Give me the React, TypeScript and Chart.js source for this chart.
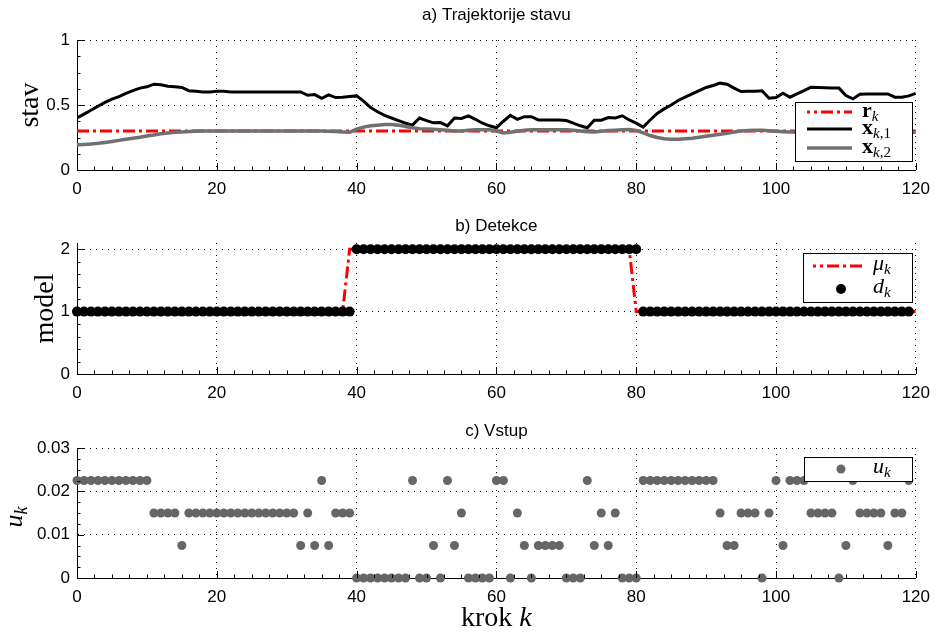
import React, { useEffect, useRef } from 'react';
import { Chart, registerables } from 'chart.js';

Chart.register(...registerables);

// ---------------- data ----------------
const X_TICKS = [0, 20, 40, 60, 80, 100, 120];
const A_Y_TICKS = [0, 0.5, 1];
const A_Y_LABELS = ['0', '0.5', '1'];
const B_Y_TICKS = [0, 1, 2];
const B_Y_LABELS = ['0', '1', '2'];
const C_Y_TICKS = [0, 0.01, 0.02, 0.03];
const C_Y_LABELS = ['0', '0.01', '0.02', '0.03'];

const TITLES = ['a) Trajektorije stavu', 'b) Detekce', 'c) Vstup'];

// reference r_k (constant)
const R_K = [0, 120];
const R_VALS = [0.3, 0.3];

// state x_{k,1}, k = 0..120
const X1 = [
  0.40, 0.43, 0.46, 0.49, 0.52, 0.545, 0.565, 0.59, 0.61, 0.63, 0.64, 0.66, 0.655, 0.645, 0.64, 0.635, 0.61, 0.605, 0.60, 0.60,
  0.605, 0.605, 0.60, 0.60, 0.60, 0.60, 0.60, 0.60, 0.60, 0.60, 0.60, 0.60, 0.60, 0.575, 0.58, 0.552, 0.578, 0.557, 0.56, 0.565,
  0.57, 0.53, 0.48, 0.448, 0.42, 0.40, 0.38, 0.36, 0.345, 0.40, 0.38, 0.363, 0.365, 0.34, 0.40, 0.396, 0.417, 0.39, 0.36, 0.34,
  0.325, 0.375, 0.42, 0.39, 0.41, 0.41, 0.385, 0.385, 0.385, 0.385, 0.38, 0.36, 0.34, 0.325, 0.383, 0.383, 0.404, 0.40, 0.417, 0.385,
  0.36, 0.33, 0.385, 0.435, 0.47, 0.50, 0.535, 0.56, 0.585, 0.61, 0.635, 0.65, 0.668, 0.66, 0.63, 0.604, 0.605, 0.605, 0.61, 0.552,
  0.557, 0.59, 0.56, 0.585, 0.61, 0.637, 0.635, 0.633, 0.63, 0.63, 0.573, 0.547, 0.583, 0.585, 0.585, 0.585, 0.585, 0.56, 0.56, 0.57,
  0.59,
];

// state x_{k,2}, k = 0..120
const X2 = [
  0.195, 0.197, 0.20, 0.205, 0.212, 0.22, 0.228, 0.237, 0.245, 0.252, 0.262, 0.27, 0.278, 0.284, 0.29, 0.293, 0.296, 0.298, 0.30, 0.30,
  0.30, 0.30, 0.30, 0.30, 0.30, 0.30, 0.30, 0.30, 0.30, 0.30, 0.30, 0.30, 0.30, 0.30, 0.30, 0.30, 0.298, 0.296, 0.293, 0.29,
  0.315, 0.33, 0.34, 0.345, 0.35, 0.35, 0.345, 0.335, 0.325, 0.318, 0.315, 0.313, 0.31, 0.305, 0.30, 0.30, 0.305, 0.31, 0.31, 0.31,
  0.30, 0.285, 0.29, 0.298, 0.305, 0.31, 0.31, 0.31, 0.31, 0.31, 0.31, 0.305, 0.30, 0.295, 0.293, 0.298, 0.303, 0.306, 0.31, 0.311,
  0.305, 0.285, 0.265, 0.25, 0.24, 0.237, 0.236, 0.24, 0.245, 0.252, 0.26, 0.267, 0.275, 0.283, 0.292, 0.30, 0.303, 0.305, 0.306, 0.302,
  0.298, 0.295, 0.293, 0.29, 0.29, 0.29, 0.29, 0.29, 0.29, 0.29, 0.29, 0.29, 0.29, 0.29, 0.29, 0.29, 0.29, 0.29, 0.29, 0.29,
  0.29,
];

// model mu_k (breakpoints)
const MU_K = [0, 38, 39, 79, 80, 120];
const MU_VALS = [1, 1, 2, 2, 1, 1];

// detection d_k, k = 0..119
const D = [
  1, 1, 1, 1, 1, 1, 1, 1, 1, 1, 1, 1, 1, 1, 1, 1, 1, 1, 1, 1,
  1, 1, 1, 1, 1, 1, 1, 1, 1, 1, 1, 1, 1, 1, 1, 1, 1, 1, 1, 1,
  2, 2, 2, 2, 2, 2, 2, 2, 2, 2, 2, 2, 2, 2, 2, 2, 2, 2, 2, 2,
  2, 2, 2, 2, 2, 2, 2, 2, 2, 2, 2, 2, 2, 2, 2, 2, 2, 2, 2, 2,
  2, 1, 1, 1, 1, 1, 1, 1, 1, 1, 1, 1, 1, 1, 1, 1, 1, 1, 1, 1,
  1, 1, 1, 1, 1, 1, 1, 1, 1, 1, 1, 1, 1, 1, 1, 1, 1, 1, 1, 1,
];

// input u_k, k = 0..119
const U = [
  0.0225, 0.0225, 0.0225, 0.0225, 0.0225, 0.0225, 0.0225, 0.0225, 0.0225, 0.0225, 0.0225, 0.015, 0.015, 0.015, 0.015, 0.0075, 0.015, 0.015, 0.015, 0.015,
  0.015, 0.015, 0.015, 0.015, 0.015, 0.015, 0.015, 0.015, 0.015, 0.015, 0.015, 0.015, 0.0075, 0.015, 0.0075, 0.0225, 0.0075, 0.015, 0.015, 0.015,
  0, 0, 0, 0, 0, 0, 0, 0, 0.0225, 0, 0, 0.0075, 0, 0.0225, 0.0075, 0.015, 0, 0, 0, 0,
  0.0225, 0.0225, 0, 0.015, 0.0075, 0, 0.0075, 0.0075, 0.0075, 0.0075, 0, 0, 0, 0.0225, 0.0075, 0.015, 0.0075, 0.015, 0, 0,
  0, 0.0225, 0.0225, 0.0225, 0.0225, 0.0225, 0.0225, 0.0225, 0.0225, 0.0225, 0.0225, 0.0225, 0.015, 0.0075, 0.0075, 0.015, 0.015, 0.015, 0, 0.015,
  0.0225, 0.0075, 0.0225, 0.0225, 0.0225, 0.015, 0.015, 0.015, 0.015, 0, 0.0075, 0.0225, 0.015, 0.015, 0.015, 0.015, 0.0075, 0.015, 0.015, 0.0225,
];

// ---------------- styling ----------------
const SANS = '"Liberation Sans", Arial, Helvetica, sans-serif';
const SERIF = '"Liberation Serif", "Times New Roman", serif';
const RED = '#ff0000';
const GRAY_LINE = '#707070';
const GRAY_DOT = '#666666';
const RDASH = [12, 4, 3, 4];

const W = 939;

const pts = (xs: number[], ys: number[]) => ys.map((y, i) => ({ x: xs[i], y }));
const idx = (n: number) => Array.from({ length: n }, (_, i) => i);

type Seg = { t: string; f: string; dy?: number };
function richWidth(ctx: CanvasRenderingContext2D, segs: Seg[]) {
  let w = 0;
  for (const s of segs) {
    ctx.font = s.f;
    w += ctx.measureText(s.t).width;
  }
  return w;
}
function drawRich(ctx: CanvasRenderingContext2D, segs: Seg[], x: number, y: number, align: 'left' | 'center') {
  const w = richWidth(ctx, segs);
  let cx = align === 'center' ? x - w / 2 : x;
  ctx.textAlign = 'left';
  ctx.textBaseline = 'alphabetic';
  ctx.fillStyle = '#000';
  for (const s of segs) {
    ctx.font = s.f;
    ctx.fillText(s.t, cx, y + (s.dy || 0));
    cx += ctx.measureText(s.t).width;
  }
}
function drawRichRotated(ctx: CanvasRenderingContext2D, segs: Seg[], baseX: number, centerY: number) {
  ctx.save();
  ctx.translate(baseX, centerY);
  ctx.rotate(-Math.PI / 2);
  drawRich(ctx, segs, 0, 0, 'center');
  ctx.restore();
}
function drawTitle(ctx: CanvasRenderingContext2D, text: string, cx: number, cy: number) {
  ctx.save();
  ctx.font = `17px ${SANS}`;
  ctx.fillStyle = '#000';
  ctx.textAlign = 'center';
  ctx.textBaseline = 'middle';
  ctx.fillText(text, cx, cy);
  ctx.restore();
}

function legendBox(ctx: CanvasRenderingContext2D, x1: number, y1: number, x2: number, y2: number) {
  ctx.save();
  ctx.fillStyle = '#fff';
  ctx.fillRect(x1, y1, x2 - x1, y2 - y1);
  ctx.strokeStyle = '#000';
  ctx.lineWidth = 1;
  ctx.strokeRect(x1 + 0.5, y1 + 0.5, x2 - x1, y2 - y1);
  ctx.restore();
}
function sampleLine(ctx: CanvasRenderingContext2D, x1: number, x2: number, y: number, color: string, width: number, dash: number[] = [], offset = 0) {
  ctx.save();
  ctx.strokeStyle = color;
  ctx.lineWidth = width;
  ctx.setLineDash(dash);
  ctx.lineDashOffset = offset;
  ctx.beginPath();
  ctx.moveTo(x1, y);
  ctx.lineTo(x2, y);
  ctx.stroke();
  ctx.restore();
}
function dot(ctx: CanvasRenderingContext2D, x: number, y: number, r: number, color: string) {
  ctx.save();
  ctx.fillStyle = color;
  ctx.beginPath();
  ctx.arc(x, y, r, 0, Math.PI * 2);
  ctx.fill();
  ctx.restore();
}

type DecorOpts = {
  title: string;
  titleY: number;
  xMinor: number;
  yMinor: number;
  yMajor: number[];
  draw: (ctx: CanvasRenderingContext2D, ca: any) => void;
};
function makeDecor(o: DecorOpts) {
  return {
    id: 'decor',
    afterDraw(chart: any) {
      const { ctx, chartArea: ca } = chart;
      const xs = chart.scales.x;
      const ys = chart.scales.y;
      ctx.save();
      ctx.strokeStyle = '#000';
      ctx.lineWidth = 1;
      ctx.beginPath();
      const nx = Math.round((xs.max - xs.min) / o.xMinor);
      for (let i = 0; i <= nx; i++) {
        const v = xs.min + i * o.xMinor;
        const major = X_TICKS.some((m) => Math.abs(m - v) < 1e-9);
        const px = Math.round(xs.getPixelForValue(v)) + 0.5;
        const len = major ? 7 : 3.5;
        ctx.moveTo(px, ca.bottom);
        ctx.lineTo(px, ca.bottom - len);
      }
      const ny = Math.floor((ys.max - ys.min) / o.yMinor + 1e-6);
      for (let i = 0; i <= ny; i++) {
        const v = ys.min + i * o.yMinor;
        const major = o.yMajor.some((m) => Math.abs(m - v) < 1e-9);
        const py = Math.round(ys.getPixelForValue(v)) + 0.5;
        const len = major ? 7 : 3.5;
        ctx.moveTo(ca.left, py);
        ctx.lineTo(ca.left + len, py);
      }
      ctx.stroke();
      ctx.restore();
      drawTitle(ctx, o.title, (ca.left + ca.right) / 2, o.titleY);
      ctx.save();
      o.draw(ctx, ca);
      ctx.restore();
    },
  };
}

function baseOptions(p: {
  padTop: number;
  padBottom: number;
  xHeight: number;
  yMin: number;
  yMax: number;
  yTicks: number[];
  yLabels: string[];
}) {
  return {
    responsive: false,
    maintainAspectRatio: false,
    animation: false as const,
    devicePixelRatio: 1,
    layout: { padding: { left: 0, right: W - 920, top: p.padTop, bottom: p.padBottom } },
    plugins: {
      legend: { display: false },
      tooltip: { enabled: false },
      title: { display: false },
    },
    scales: {
      x: {
        type: 'linear' as const,
        min: 0,
        max: 120,
        afterBuildTicks: (s: any) => {
          s.ticks = X_TICKS.map((v) => ({ value: v }));
        },
        afterFit: (s: any) => {
          s.height = p.xHeight;
        },
        ticks: {
          color: '#000',
          font: { family: SANS, size: 17, lineHeight: 1.2 },
          padding: 9,
          maxRotation: 0,
          autoSkip: false,
          callback: (v: any) => String(v),
        },
        grid: { color: '#000', lineWidth: 1, drawTicks: false },
        border: { display: true, color: '#000', width: 1, dash: [1, 5] },
      },
      y: {
        type: 'linear' as const,
        min: p.yMin,
        max: p.yMax,
        afterBuildTicks: (s: any) => {
          s.ticks = p.yTicks.map((v) => ({ value: v }));
        },
        afterFit: (s: any) => {
          s.width = 77;
        },
        ticks: {
          color: '#000',
          font: { family: SANS, size: 17, lineHeight: 1.2 },
          padding: 7,
          callback: (v: any) => {
            const i = p.yTicks.findIndex((t) => Math.abs(t - v) < 1e-9);
            return i >= 0 ? p.yLabels[i] : '';
          },
        },
        grid: { color: '#000', lineWidth: 1, drawTicks: false },
        border: { display: true, color: '#000', width: 1, dash: [1, 5] },
      },
    },
  };
}

const K121 = idx(121);
const K120 = idx(120);

function configA(): any {
  return {
    type: 'line',
    data: {
      datasets: [
        { label: 'r', data: pts(R_K, R_VALS), borderColor: RED, borderWidth: 3, borderDash: RDASH, pointRadius: 0, tension: 0, order: 3 },
        { label: 'x1', data: pts(K121, X1), borderColor: '#000', borderWidth: 3, pointRadius: 0, tension: 0, order: 2 },
        { label: 'x2', data: pts(K121, X2), borderColor: GRAY_LINE, borderWidth: 3.5, pointRadius: 0, tension: 0, order: 1 },
      ],
    },
    options: baseOptions({
      padTop: 40, padBottom: 5, xHeight: 30,
      yMin: 0, yMax: 1, yTicks: A_Y_TICKS, yLabels: A_Y_LABELS,
    }),
    plugins: [
      makeDecor({
        title: TITLES[0], titleY: 15,
        xMinor: 2.5, yMinor: 0.125, yMajor: A_Y_TICKS,
        draw: (ctx, ca) => {
          drawRichRotated(ctx, [{ t: 'stav', f: `28px ${SERIF}` }], 38, (ca.top + ca.bottom) / 2);
          legendBox(ctx, 795, 102, 912, 161);
          sampleLine(ctx, 807, 852, 112, RED, 3, RDASH, 9);
          sampleLine(ctx, 807, 852, 129, '#000', 3);
          sampleLine(ctx, 807, 852, 148, GRAY_LINE, 3.5);
          drawRich(ctx, [{ t: 'r', f: `bold 22px ${SERIF}` }, { t: 'k', f: `italic 15px ${SERIF}`, dy: 4 }], 862, 117, 'left');
          drawRich(ctx, [{ t: 'x', f: `bold 22px ${SERIF}` }, { t: 'k', f: `italic 15px ${SERIF}`, dy: 4 }, { t: ',1', f: `15px ${SERIF}`, dy: 4 }], 862, 134, 'left');
          drawRich(ctx, [{ t: 'x', f: `bold 22px ${SERIF}` }, { t: 'k', f: `italic 15px ${SERIF}`, dy: 4 }, { t: ',2', f: `15px ${SERIF}`, dy: 4 }], 862, 153, 'left');
        },
      }),
    ],
  };
}

function configB(): any {
  return {
    type: 'line',
    data: {
      datasets: [
        { label: 'mu', data: pts(MU_K, MU_VALS), borderColor: RED, borderWidth: 3, borderDash: RDASH, pointRadius: 0, tension: 0, order: 2 },
        {
          label: 'd', data: pts(K120, D), showLine: false, pointRadius: 5, pointBackgroundColor: '#000', pointBorderWidth: 0,
          borderColor: '#000', clip: false, order: 1,
        },
      ],
    },
    options: baseOptions({
      padTop: 38, padBottom: 6, xHeight: 30,
      yMin: 0, yMax: 2.1, yTicks: B_Y_TICKS, yLabels: B_Y_LABELS,
    }),
    plugins: [
      makeDecor({
        title: TITLES[1], titleY: 21,
        xMinor: 2.5, yMinor: 0.2, yMajor: B_Y_TICKS,
        draw: (ctx, ca) => {
          drawRichRotated(ctx, [{ t: 'model', f: `28px ${SERIF}` }], 53, (ca.top + ca.bottom) / 2);
          legendBox(ctx, 803, 48, 912, 97);
          sampleLine(ctx, 813, 862, 61, RED, 3, RDASH, 9);
          dot(ctx, 841, 84, 5, '#000');
          drawRich(ctx, [{ t: 'μ', f: `italic 22px ${SERIF}` }, { t: 'k', f: `italic 15px ${SERIF}`, dy: 4 }], 873, 65, 'left');
          drawRich(ctx, [{ t: 'd', f: `italic 22px ${SERIF}` }, { t: 'k', f: `italic 15px ${SERIF}`, dy: 4 }], 873, 88, 'left');
        },
      }),
    ],
  };
}

function configC(): any {
  return {
    type: 'line',
    data: {
      datasets: [
        {
          label: 'u', data: pts(K120, U), showLine: false, pointRadius: 4.5, pointBackgroundColor: GRAY_DOT, pointBorderWidth: 0,
          borderColor: GRAY_DOT, clip: false,
        },
      ],
    },
    options: baseOptions({
      padTop: 38, padBottom: 0, xHeight: 55,
      yMin: 0, yMax: 0.03, yTicks: C_Y_TICKS, yLabels: C_Y_LABELS,
    }),
    plugins: [
      makeDecor({
        title: TITLES[2], titleY: 21,
        xMinor: 2.5, yMinor: 0.0025, yMajor: C_Y_TICKS,
        draw: (ctx, ca) => {
          drawRichRotated(ctx, [{ t: 'u', f: `italic 26px ${SERIF}` }, { t: 'k', f: `italic 18px ${SERIF}`, dy: 5 }], 22, (ca.top + ca.bottom) / 2 + 4);
          drawRich(ctx, [{ t: 'krok ', f: `28px ${SERIF}` }, { t: 'k', f: `italic 28px ${SERIF}` }], (ca.left + ca.right) / 2, 216, 'center');
          legendBox(ctx, 804, 47, 912, 71);
          dot(ctx, 841, 59, 4.5, GRAY_DOT);
          drawRich(ctx, [{ t: 'u', f: `italic 22px ${SERIF}` }, { t: 'k', f: `italic 15px ${SERIF}`, dy: 4 }], 873, 63, 'left');
        },
      }),
    ],
  };
}

function Panel({ top, height, make }: { top: number; height: number; make: () => any }) {
  const ref = useRef<HTMLCanvasElement>(null);
  useEffect(() => {
    const chart = new Chart(ref.current as HTMLCanvasElement, make());
    return () => chart.destroy();
  }, []);
  return (
    <div style={{ position: 'absolute', left: 0, top, width: W, height }}>
      <canvas ref={ref} width={W} height={height} style={{ display: 'block', width: W, height }} />
    </div>
  );
}

export default function App() {
  return (
    <div style={{ position: 'absolute', left: 0, top: 0, width: W, height: 633, background: '#fff' }}>
      <Panel top={0} height={205} make={configA} />
      <Panel top={205} height={205} make={configB} />
      <Panel top={410} height={223} make={configC} />
    </div>
  );
}
